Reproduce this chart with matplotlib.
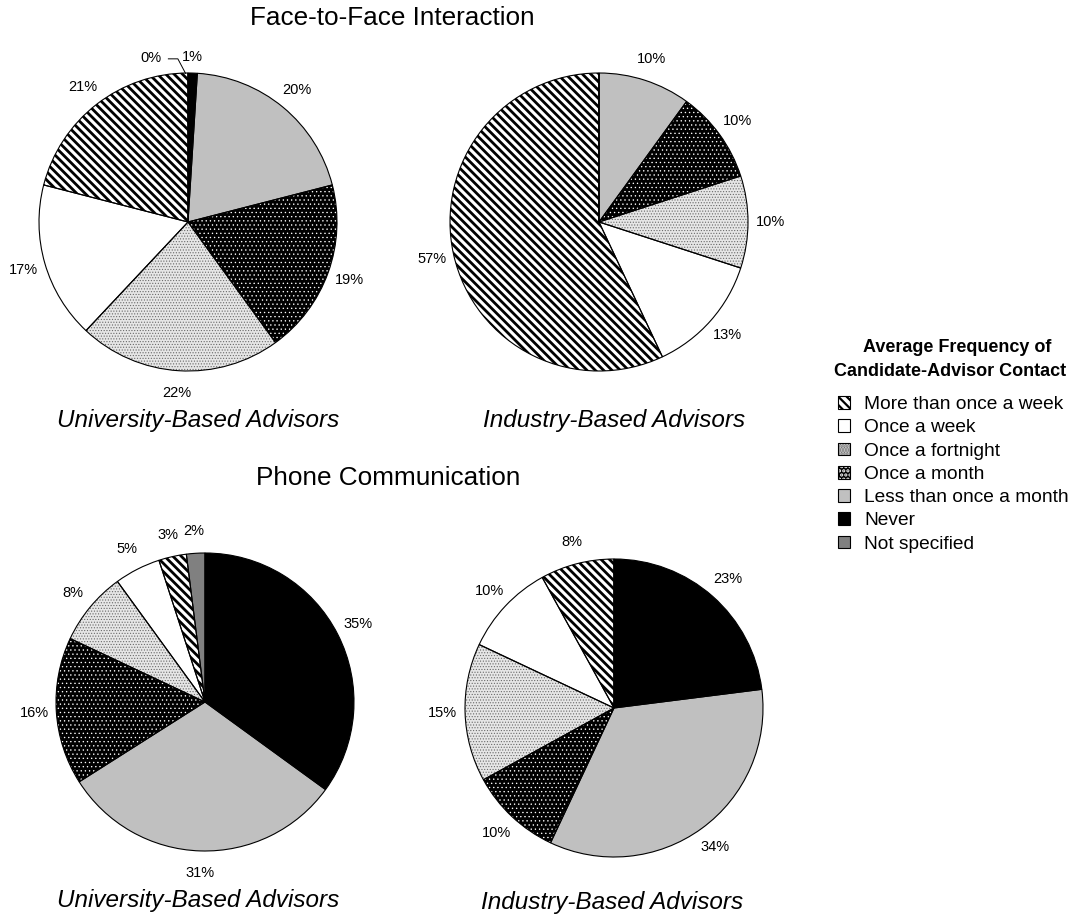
import matplotlib
matplotlib.use("Agg")
import matplotlib.pyplot as plt
from matplotlib.patches import Patch
import numpy as np

plt.rcParams['font.family'] = ['Liberation Sans', 'DejaVu Sans']
plt.rcParams['hatch.linewidth'] = 1.6

# ---------------- data ----------------
categories = ["More than once a week", "Once a week", "Once a fortnight",
              "Once a month", "Less than once a month", "Never", "Not specified"]
# values per chart (legend order)
univ_f2f = [21, 17, 22, 19, 20, 1, 0]
ind_f2f = [57, 13, 10, 10, 10, 0, 0]
univ_phone = [3, 5, 8, 16, 31, 35, 2]
ind_phone = [8, 10, 15, 10, 34, 23, 0]

section_titles = ["Face-to-Face Interaction", "Phone Communication"]
pie_titles = ["University-Based Advisors", "Industry-Based Advisors"]
legend_title = ["Average Frequency of", "Candidate-Advisor Contact"]

# clockwise drawing order from 12 o'clock (indices into categories)
draw_order = [5, 4, 3, 2, 1, 0, 6]
NEVER, NOT_SPEC = 5, 6

# ---------------- styles ----------------
face = {0: 'white', 1: 'white', 2: '#e6e6e6', 3: 'black', 4: '#c0c0c0', 5: 'black', 6: '#808080'}
hatch = {0: '\\\\\\\\', 1: None, 2: '......', 3: '....', 4: None, 5: None, 6: None}
hcol = {0: 'black', 1: 'white', 2: '#6a6a6a', 3: 'white', 4: '#c0c0c0', 5: 'black', 6: '#808080'}
hlw = {0: 2.0, 1: 1.0, 2: 0.5, 3: 0.45, 4: 1.0, 5: 1.0, 6: 1.0}

W, H = 1081, 915
fig = plt.figure(figsize=(W / 100, H / 100), dpi=100)

LIM = 1.4
R_PX = 149
PCT_FS = 10.5


def draw_pie(cx, cy, values, special_zero=False):
    half = LIM * R_PX
    ax = fig.add_axes([(cx - half) / W, (H - cy - half) / H, 2 * half / W, 2 * half / H])
    vals = [values[i] for i in draw_order]
    wedges, _ = ax.pie(vals, startangle=90, counterclock=False, radius=1,
                       colors=[face[i] for i in draw_order],
                       wedgeprops=dict(linewidth=0))
    for w, i in zip(wedges, draw_order):
        w.set_edgecolor(hcol[i])
        if hatch[i]:
            w.set_hatch(hatch[i])
            if hasattr(w, 'set_hatch_linewidth'):
                w.set_hatch_linewidth(hlw[i])
        w.set_linewidth(0)
    ax.pie(vals, startangle=90, counterclock=False, radius=1,
           colors=['none'] * len(vals),
           wedgeprops=dict(linewidth=0.8, edgecolor='black', fill=False))
    for w, i, v in zip(wedges, draw_order, vals):
        mid = np.deg2rad((w.theta1 + w.theta2) / 2)
        if v == 0:
            if special_zero and i == NOT_SPEC:
                ax.text(-0.25, 1.10, f"{v}%", ha='center', va='center', fontsize=PCT_FS)
                ax.plot([-0.135, -0.068, np.cos(mid) * 0.995 - 0.015],
                        [1.095, 1.095, np.sin(mid) * 0.995],
                        color='black', lw=0.7, solid_capstyle='butt')
            continue
        if special_zero and i == NEVER:
            ax.text(0.03, 1.11, f"{v}%", ha='center', va='center', fontsize=PCT_FS)
            continue
        ax.text(np.cos(mid) * 1.15, np.sin(mid) * 1.15, f"{v}%",
                ha='center', va='center', fontsize=PCT_FS)
    ax.set_xlim(-LIM, LIM)
    ax.set_ylim(-LIM, LIM)
    ax.set_aspect('equal')
    ax.axis('off')
    return ax


draw_pie(188, 222, univ_f2f, special_zero=True)
draw_pie(599, 222, ind_f2f)
draw_pie(205, 702, univ_phone)
draw_pie(614, 708, ind_phone)

# titles
TFS = 18.8
SFS = 17.5
fig.text(392 / W, 1 - 18 / H, section_titles[0], ha='center', va='center', fontsize=TFS)
fig.text(388 / W, 1 - 478 / H, section_titles[1], ha='center', va='center', fontsize=TFS)
fig.text(198 / W, 1 - 420 / H, pie_titles[0], ha='center', va='center', fontsize=SFS, style='italic')
fig.text(614 / W, 1 - 420 / H, pie_titles[1], ha='center', va='center', fontsize=SFS, style='italic')
fig.text(198 / W, 1 - 900 / H, pie_titles[0], ha='center', va='center', fontsize=SFS, style='italic')
fig.text(612 / W, 1 - 903 / H, pie_titles[1], ha='center', va='center', fontsize=SFS, style='italic')

# legend
fig.text(957 / W, 1 - 348 / H, legend_title[0], ha='center', va='center', fontsize=13, fontweight='bold')
fig.text(950 / W, 1 - 372 / H, legend_title[1], ha='center', va='center', fontsize=13, fontweight='bold')

handles = []
for i in range(len(categories)):
    p1 = Patch(facecolor=face[i], edgecolor=hcol[i], hatch=hatch[i], linewidth=0)
    p2 = Patch(facecolor='none', edgecolor='black', linewidth=0.8)
    handles.append((p1, p2))
fig.legend(handles, categories, loc='upper left',
           bbox_to_anchor=(838 / W, 1 - 396 / H), frameon=False,
           fontsize=13.8, handlelength=0.65, handleheight=0.65, handletextpad=0.7,
           labelspacing=0.32, borderpad=0, borderaxespad=0)

fig.savefig('out.png', dpi=100)
